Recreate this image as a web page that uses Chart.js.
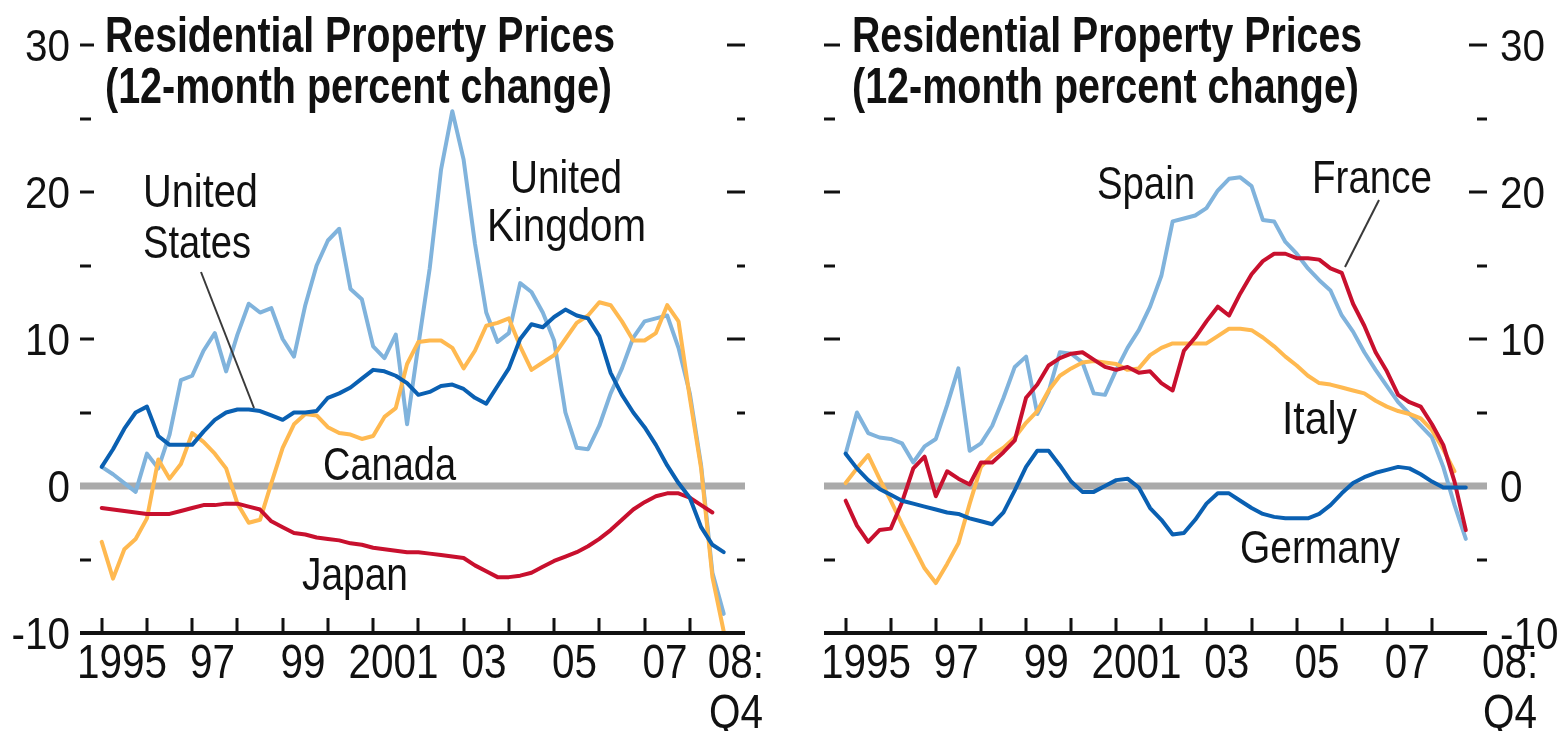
<!DOCTYPE html>
<html><head><meta charset="utf-8">
<script src="https://cdn.jsdelivr.net/npm/chart.js@4.4.1/dist/chart.umd.min.js"></script>
<style>
html,body{margin:0;padding:0;background:#fff;width:1562px;height:731px;overflow:hidden}
.panel{position:absolute;top:0;width:781px;height:731px}
#p1{left:0}#p2{left:781px}
canvas{display:block}
</style></head><body>
<div class="panel" id="p1"><canvas id="c1" width="781" height="731"></canvas></div>
<div class="panel" id="p2"><canvas id="c2" width="781" height="731"></canvas></div>
<script>
// ---------- categories ----------
const years = [1995,1996,1997,1998,1999,2000,2001,2002,2003,2004,2005,2006,2007,2008];
const quarters = ["Q1","Q2","Q3","Q4"];
const xTickLabels = ["1995","97","99","2001","03","05","07","08:"];
const xTickYears  = [1995,1997,1999,2001,2003,2005,2007,2008];
const yTickLabels = ["-10","0","10","20","30"];
const yTickValues = [-10,0,10,20,30];
const yMinorValues = [-5,5,15,25];
const titleLines = ["Residential Property Prices","(12-month percent change)"];

// ---------- series (12-month percent change, quarterly 1995Q1-2008Q4) ----------
const unitedStates = [1.3,2.5,3.9,5.0,5.4,3.4,2.8,2.8,2.8,3.7,4.5,5.0,5.2,5.2,5.1,4.8,4.5,5.0,5.0,5.1,
  6.0,6.3,6.7,7.3,7.9,7.8,7.5,7.0,6.2,6.4,6.8,6.9,6.6,6.0,5.6,6.8,8.0,10.0,11.0,10.8,
  11.5,12.0,11.6,11.4,10.2,7.7,6.2,5.0,4.0,2.8,1.4,0.2,-0.8,-2.8,-4.0,-4.5];
const unitedKingdom = [1.3,0.8,0.2,-0.4,2.2,1.2,3.5,7.2,7.5,9.2,10.4,7.8,10.3,12.4,11.8,12.1,10.0,8.8,12.3,
  15.0,16.7,17.5,13.4,12.7,9.5,8.7,10.3,4.2,9.6,14.8,21.5,25.5,22.2,16.5,11.8,9.8,10.4,
  13.8,13.2,11.8,9.9,5.0,2.6,2.5,4.1,6.3,8.0,10.1,11.2,11.4,11.6,9.4,6.3,1.4,-5.9,-8.7];
const canada = [-3.8,-6.3,-4.3,-3.6,-2.2,1.8,0.5,1.5,3.6,3.0,2.2,1.2,-1.2,-2.5,-2.3,0.2,2.6,4.2,4.9,
  4.8,4.0,3.6,3.5,3.2,3.4,4.7,5.3,8.3,9.8,9.9,9.9,9.4,8.0,9.2,10.9,11.1,11.4,
  9.5,7.9,8.4,8.9,10.0,11.1,11.6,12.5,12.3,11.2,9.9,9.9,10.4,12.3,11.2,6.0,1.2,-6.2,-9.9];
const japan = [-1.5,-1.6,-1.7,-1.8,-1.9,-1.9,-1.9,-1.7,-1.5,-1.3,-1.3,-1.2,-1.2,-1.4,-1.6,-2.4,-2.8,-3.2,-3.3,
  -3.5,-3.6,-3.7,-3.9,-4.0,-4.2,-4.3,-4.4,-4.5,-4.5,-4.6,-4.7,-4.8,-4.9,-5.4,-5.8,-6.2,-6.2,
  -6.1,-5.9,-5.5,-5.1,-4.8,-4.5,-4.1,-3.6,-3.0,-2.3,-1.6,-1.1,-0.7,-0.5,-0.5,-0.8,-1.3,-1.8,null];

const spain = [2.2,5.0,3.6,3.3,3.2,2.9,1.6,2.7,3.2,5.5,8.0,2.4,2.9,4.1,6.0,8.1,8.8,4.9,6.4,9.1,
  9.0,8.4,6.3,6.2,7.9,9.4,10.6,12.2,14.3,18.0,18.2,18.4,18.9,20.1,20.9,21.0,20.4,18.1,18.0,16.6,
  15.8,14.8,14.0,13.3,11.6,10.5,9.1,7.9,6.8,5.7,4.9,4.1,3.3,1.3,-1.3,-3.6];
const france = [-1.0,-2.7,-3.8,-3.0,-2.9,-1.1,1.2,2.0,-0.7,1.0,0.5,0.1,1.6,1.6,2.3,3.1,6.0,6.9,8.2,8.7,
  9.0,9.1,8.6,8.1,7.9,8.1,7.7,7.8,7.0,6.5,9.2,10.1,11.2,12.2,11.6,13.1,14.4,15.3,15.8,15.8,
  15.5,15.5,15.4,14.8,14.5,12.4,10.9,9.1,7.8,6.2,5.7,5.4,4.2,2.8,0.3,-3.0];
const italy = [0.2,1.2,2.1,0.5,-1.0,-2.6,-4.1,-5.6,-6.6,-5.3,-3.9,-1.2,1.3,2.1,2.6,3.3,4.3,5.1,6.5,7.5,
  8.0,8.4,8.5,8.4,8.3,7.9,8.0,8.9,9.4,9.7,9.7,9.7,9.7,10.2,10.7,10.7,10.6,10.1,9.5,8.8,
  8.2,7.5,7.0,6.9,6.7,6.5,6.3,5.8,5.4,5.1,4.9,4.6,3.8,2.5,1.0,null];
const germany = [2.2,1.2,0.4,-0.2,-0.6,-1.0,-1.2,-1.4,-1.6,-1.8,-1.9,-2.2,-2.4,-2.6,-1.8,-0.3,1.3,2.4,2.4,1.4,
  0.3,-0.4,-0.4,0.0,0.4,0.5,-0.1,-1.5,-2.3,-3.3,-3.2,-2.3,-1.2,-0.5,-0.5,-1.0,-1.5,-1.9,-2.1,-2.2,
  -2.2,-2.2,-1.9,-1.3,-0.5,0.2,0.6,0.9,1.1,1.3,1.2,0.8,0.3,-0.1,-0.1,-0.1];

// quarter positions on a continuous year axis
const quarterX = [];
years.forEach(yr => quarters.forEach((q, k) => quarterX.push(yr + k / 4)));

const COLORS = { lightBlue:'#80b3dc', darkBlue:'#0a60b2', orange:'#ffb950', red:'#c8102e' };
const FAMILY = '"Liberation Sans Narrow","Liberation Sans",Arial,sans-serif';
const INK = '#111111';

function toPoints(arr){ return arr.map((v,i)=>({x:quarterX[i], y:v})); }
function ds(label, arr, color){
  return {label, data: toPoints(arr), borderColor: color, backgroundColor: color,
    borderWidth: 4, pointRadius: 0, tension: 0, fill: false, spanGaps: false,
    borderJoinStyle: 'round', borderCapStyle: 'round'};
}

function drawScaled(ctx, text, x, y, size, weight, sx, align){
  ctx.save();
  ctx.font = `${weight} ${size}px ${FAMILY}`;
  ctx.translate(x, y); ctx.scale(sx, 1);
  ctx.textAlign = align || 'left'; ctx.textBaseline = 'alphabetic';
  ctx.fillText(text, 0, 0);
  ctx.restore();
}
function fitFactor(ctx, text, size, weight, width){
  ctx.save(); ctx.font = `${weight} ${size}px ${FAMILY}`;
  const w = ctx.measureText(text).width; ctx.restore();
  return width / w;
}

const decor = {
  id: 'decor',
  beforeDatasetsDraw(chart, args, o){
    const {ctx, chartArea:a, scales:{y}} = chart;
    const y0 = y.getPixelForValue(0);
    ctx.save();
    ctx.strokeStyle = '#aaaaaa'; ctx.lineWidth = 7;
    ctx.beginPath(); ctx.moveTo(a.left, y0); ctx.lineTo(a.right, y0); ctx.stroke();
    ctx.restore();
  },
  afterDatasetsDraw(chart, args, o){
    const {ctx, chartArea:a, scales:{x, y}} = chart;
    ctx.save();
    ctx.fillStyle = INK; ctx.strokeStyle = INK;
    // baseline
    const yb = y.getPixelForValue(-10);
    ctx.lineWidth = 4;
    ctx.beginPath(); ctx.moveTo(a.left, yb); ctx.lineTo(a.right, yb); ctx.stroke();
    // x ticks at year boundaries
    ctx.lineWidth = 3;
    years.forEach(yr => {
      const px = Math.round(x.getPixelForValue(yr));
      ctx.beginPath(); ctx.moveTo(px, yb); ctx.lineTo(px, yb - 15); ctx.stroke();
    });
    // y tick dashes
    ctx.lineWidth = 3;
    const dash = (v, major) => {
      const py = Math.round(y.getPixelForValue(v));
      const l1 = major ? o.leftMajor : o.leftMinor;
      const r1 = major ? o.rightMajor : o.rightMinor;
      ctx.beginPath(); ctx.moveTo(a.left, py); ctx.lineTo(a.left + l1, py); ctx.stroke();
      ctx.beginPath(); ctx.moveTo(a.right - r1, py); ctx.lineTo(a.right, py); ctx.stroke();
    };
    [10,20,30].forEach(v => dash(v, true));
    yMinorValues.forEach(v => dash(v, false));
    // y tick labels
    const sy = fitFactor(ctx, '30', 45, 'normal', 45);
    yTickLabels.forEach((t, i) => {
      const py = y.getPixelForValue(yTickValues[i]);
      drawScaled(ctx, t, o.yLabelX, py + 16, 45, 'normal', sy, o.yLabelAlign);
    });
    // x tick labels
    const sxk = fitFactor(ctx, '1995', 48, 'normal', 90);
    xTickLabels.forEach((t, i) => {
      const last = i === xTickLabels.length - 1;
      const v = last ? o.lastLabelPos : xTickYears[i] + 0.45;
      const px = x.getPixelForValue(v);
      drawScaled(ctx, t, px, yb + 45, 48, 'normal', sxk, 'center');
      if (last) drawScaled(ctx, 'Q4', px, yb + 95, 48, 'normal', sxk, 'center');
    });
    // title
    drawScaled(ctx, titleLines[0], o.titleX, 52, 50, 'bold', fitFactor(ctx, titleLines[0], 50, 'bold', 510), 'left');
    drawScaled(ctx, titleLines[1], o.titleX, 103, 50, 'bold', fitFactor(ctx, titleLines[1], 50, 'bold', 507), 'left');
    // series labels
    o.labels.forEach(l => {
      drawScaled(ctx, l.text, l.x, l.y, 47, 'normal', fitFactor(ctx, l.text, 47, 'normal', l.w), 'left');
    });
    // leader lines
    ctx.strokeStyle = '#3a3a3a'; ctx.lineWidth = 2;
    o.leaders.forEach(s => {
      ctx.beginPath(); ctx.moveTo(s[0], s[1]); ctx.lineTo(s[2], s[3]); ctx.stroke();
    });
    ctx.restore();
  }
};

function makeChart(id, datasets, padding, decorOpts){
  return new Chart(document.getElementById(id), {
    type: 'line',
    data: { datasets },
    options: {
      responsive: false, animation: false, devicePixelRatio: 1,
      layout: { padding },
      plugins: { legend: {display:false}, tooltip: {enabled:false}, title:{display:false}, decor: decorOpts },
      scales: {
        x: { type: 'linear', min: 1994.52, max: 2009.22, display: false },
        y: { type: 'linear', min: -10, max: 30, display: false }
      },
      elements: { line: { borderWidth: 4 } }
    },
    plugins: [decor]
  });
}

makeChart('c1', [
  ds('United States', unitedStates, COLORS.darkBlue),
  ds('Japan', japan, COLORS.red),
  ds('Canada', canada, COLORS.orange),
  ds('United Kingdom', unitedKingdom, COLORS.lightBlue)
], {left: 80, right: 36, top: 45, bottom: 98}, {
  leftMajor: 14, leftMinor: 11, rightMajor: 18, rightMinor: 8,
  yLabelX: 70, yLabelAlign: 'right', lastLabelPos: 2009.02, titleX: 105,
  labels: [
    {text:'United', x:143, y:207, w:115},
    {text:'States', x:143, y:258, w:108},
    {text:'United', x:510, y:193, w:112},
    {text:'Kingdom', x:487, y:241, w:159},
    {text:'Canada', x:323, y:480, w:133},
    {text:'Japan', x:302, y:590, w:106}
  ],
  leaders: [[201, 272, 254, 408]]
});

makeChart('c2', [
  ds('Germany', germany, COLORS.darkBlue),
  ds('France', france, COLORS.red),
  ds('Italy', italy, COLORS.orange),
  ds('Spain', spain, COLORS.lightBlue)
], {left: 43, right: 75, top: 45, bottom: 98}, {
  leftMajor: 16, leftMinor: 11, rightMajor: 18, rightMinor: 10,
  yLabelX: 719, yLabelAlign: 'left', lastLabelPos: 2009.73, titleX: 71,
  labels: [
    {text:'Spain', x:316, y:199, w:98},
    {text:'France', x:531, y:193, w:120},
    {text:'Italy', x:501, y:434, w:75},
    {text:'Germany', x:459, y:563, w:160}
  ],
  leaders: [[598, 200, 564, 267]]
});
</script>
</body></html>
